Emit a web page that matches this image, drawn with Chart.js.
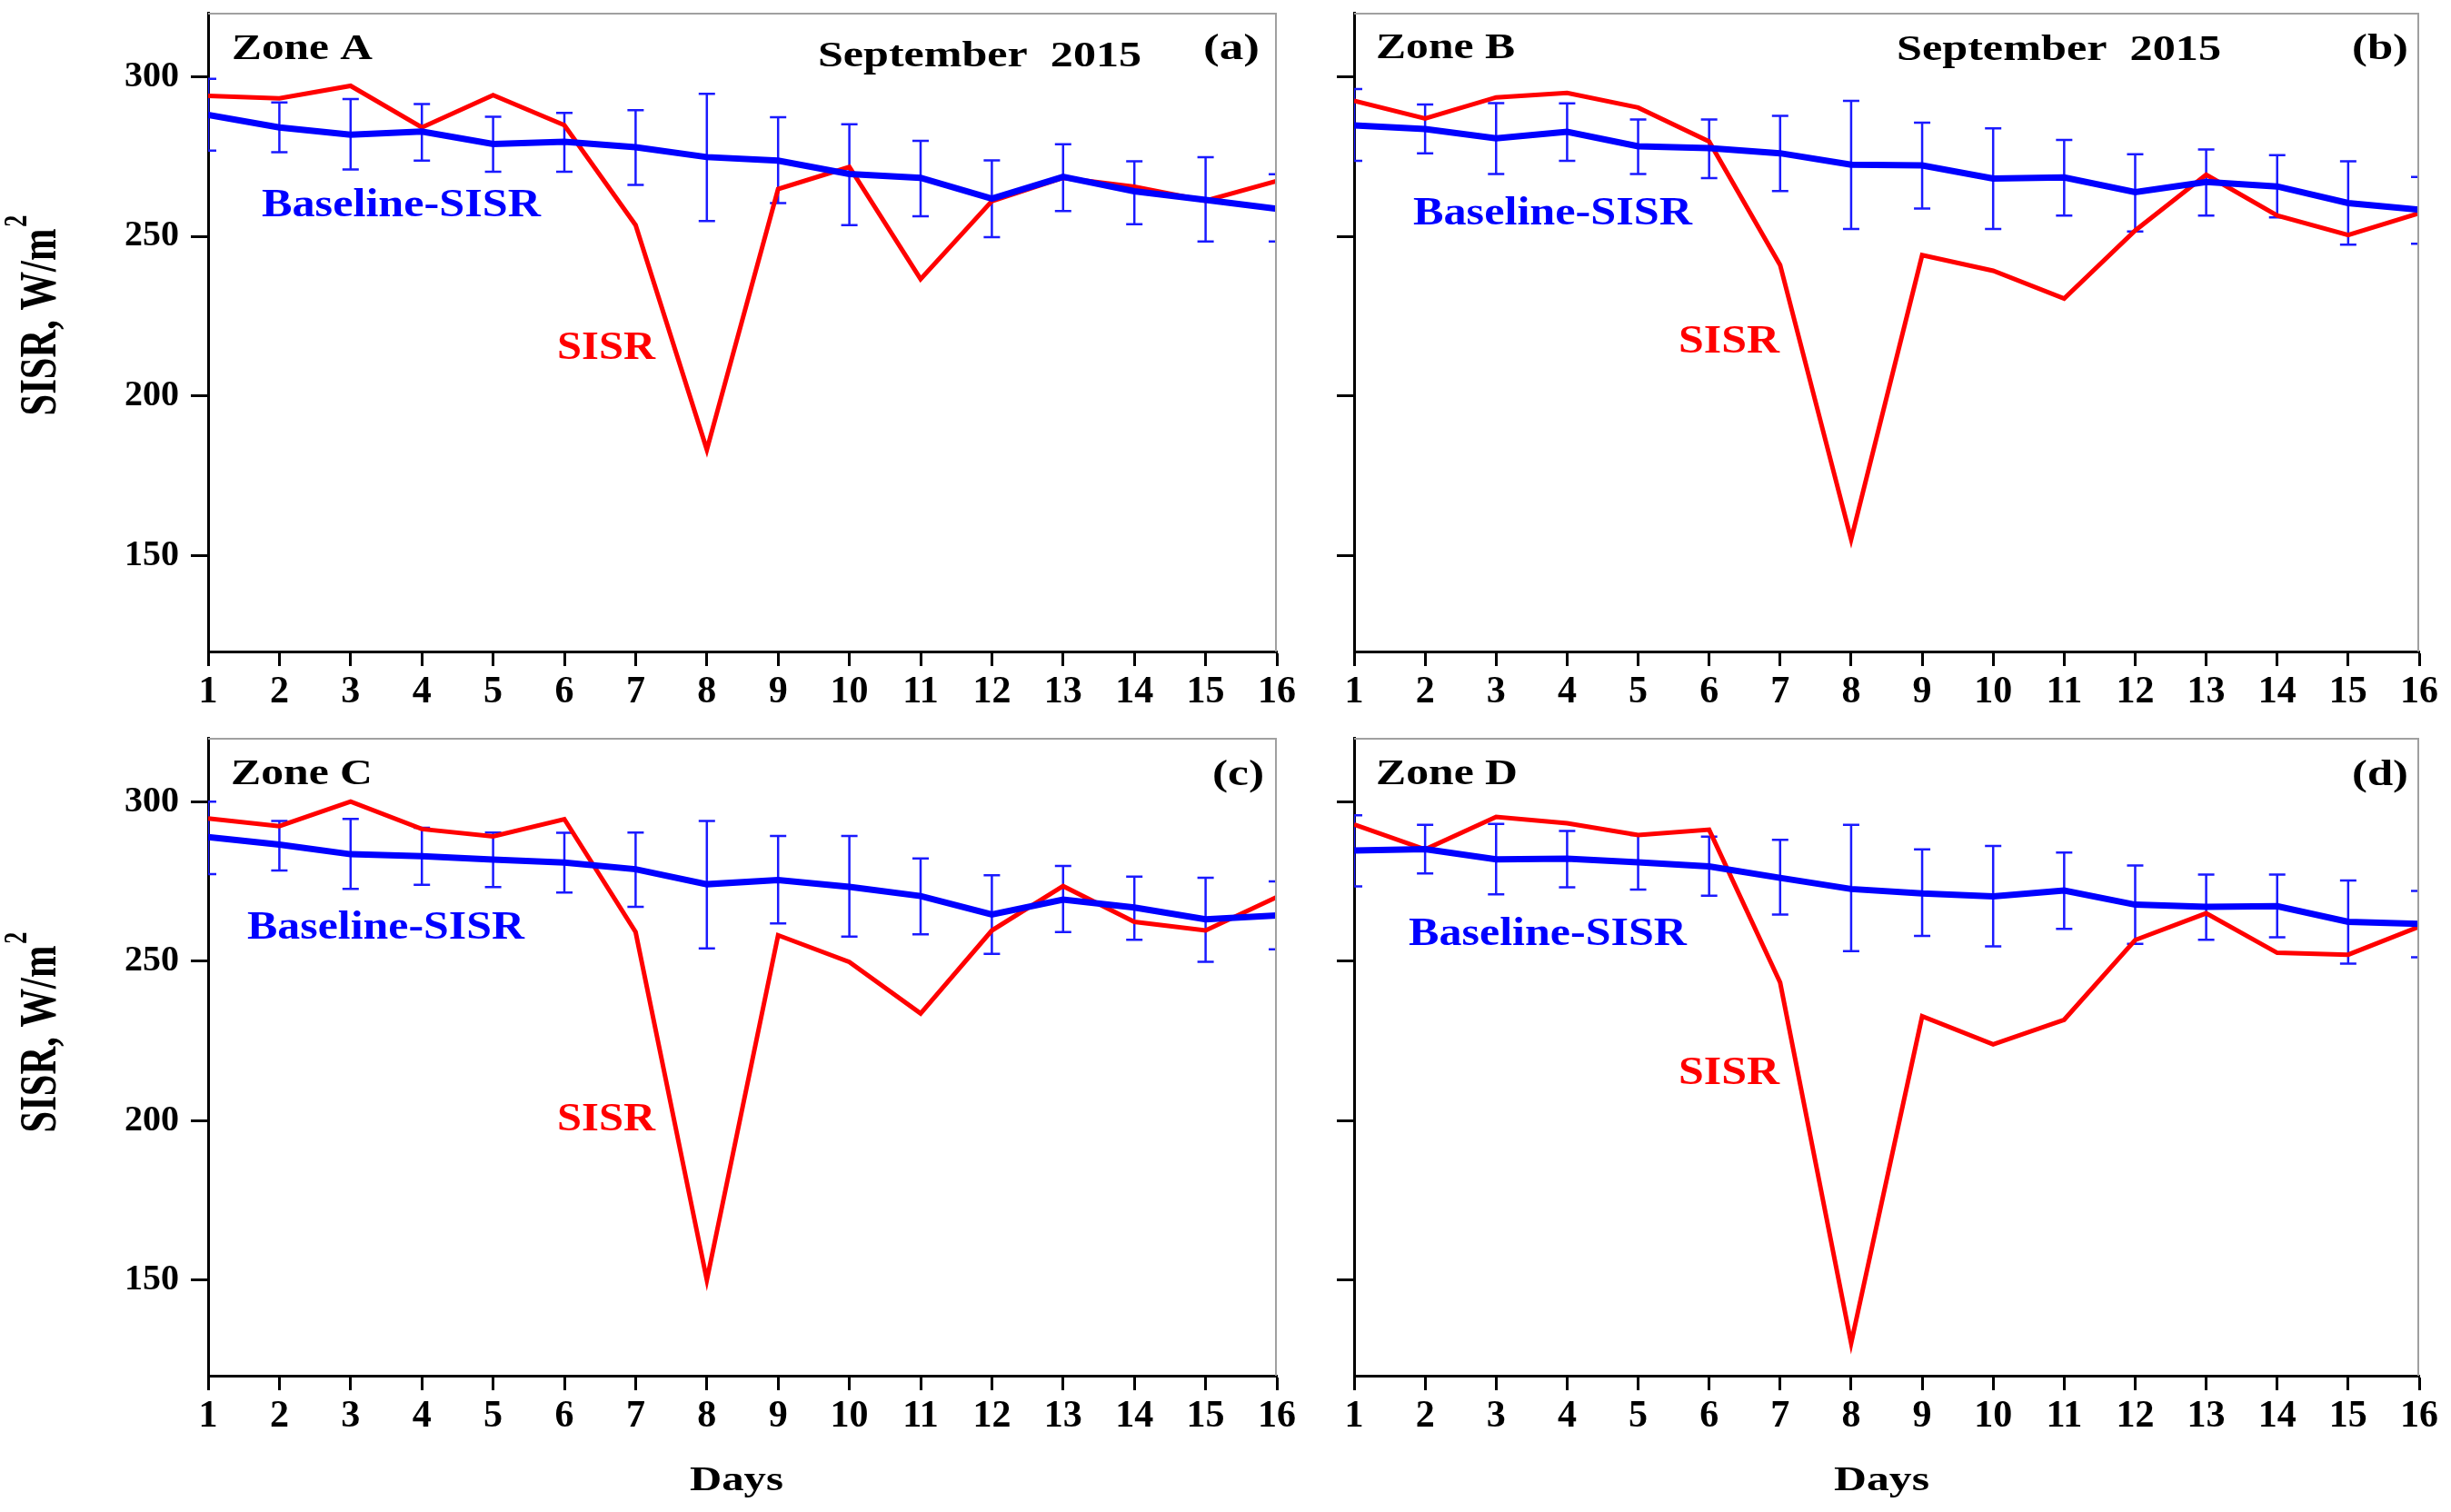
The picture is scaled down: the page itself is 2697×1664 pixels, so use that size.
<!DOCTYPE html>
<html><head><meta charset="utf-8">
<script src="https://cdn.jsdelivr.net/npm/chart.js@4.4.0/dist/chart.umd.min.js"></script>
<style>
html,body{margin:0;padding:0;background:#fff;width:2697px;height:1664px;overflow:hidden}
canvas{position:absolute}
</style></head><body>
<canvas id="cA" width="1445" height="790" style="left:0;top:0"></canvas>
<canvas id="cB" width="1252" height="790" style="left:1445px;top:0"></canvas>
<canvas id="cC" width="1445" height="874" style="left:0;top:790px"></canvas>
<canvas id="cD" width="1252" height="874" style="left:1445px;top:790px"></canvas>
<script>
// ---------- data ----------
const days = [1,2,3,4,5,6,7,8,9,10,11,12,13,14,15,16];
const yTickValues = [150,200,250,300];

const sisrA = [294.0,293.2,297.1,284.1,294.2,284.8,253.5,183.2,264.8,271.7,236.6,261.0,268.3,265.5,261.1,267.3];
const baseA = [288.0,284.1,281.8,282.8,278.9,279.6,277.9,274.8,273.7,269.5,268.3,261.8,268.6,264.1,261.4,258.6];
const hiA   = [299.3,291.9,293.0,291.4,287.4,288.6,289.5,294.6,287.3,285.1,279.9,273.8,278.8,273.5,274.8,269.4];
const loA   = [276.8,276.3,270.9,273.7,270.2,270.2,266.1,254.8,260.4,253.5,256.3,249.7,257.9,253.8,248.4,248.4];

const sisrB = [292.4,286.9,293.5,294.9,290.3,279.7,241.0,155.1,244.1,239.2,230.5,251.8,269.3,256.5,250.4,257.2];
const baseB = [284.7,283.6,280.7,282.7,278.2,277.6,276.0,272.4,272.2,268.1,268.4,263.8,267.0,265.6,260.4,258.3];
const hiB   = [296.1,291.3,291.7,291.6,286.6,286.6,287.7,292.4,285.6,283.8,280.2,275.7,277.2,275.4,273.5,268.6];
const loB   = [273.6,276.0,269.5,273.6,269.5,268.2,264.2,252.3,258.7,252.3,256.5,251.5,256.5,255.9,247.4,247.7];

const sisrC = [294.7,292.3,300.0,291.4,289.1,294.5,259.1,150.0,258.1,249.7,233.6,259.6,273.5,262.3,259.6,270.1];
const baseC = [288.9,286.5,283.5,282.9,281.8,280.9,278.8,274.1,275.4,273.3,270.4,264.6,269.3,266.8,263.1,264.3];
const hiC   = [300.0,293.9,294.6,291.8,290.3,290.2,290.3,293.9,289.2,289.2,282.2,276.9,279.8,276.5,276.1,275.0];
const loC   = [277.3,278.4,272.6,273.9,273.2,271.5,267.0,254.0,261.8,257.7,258.4,252.3,259.1,256.7,249.8,253.7];

const sisrD = [292.8,285.0,295.2,293.2,289.5,291.2,243.3,130.2,232.7,223.9,231.6,256.6,265.0,252.6,252.0,260.8];
const baseD = [284.7,285.1,281.9,282.1,281.0,279.7,276.1,272.6,271.2,270.3,272.1,267.7,267.0,267.2,262.3,261.7];
const hiD   = [295.7,292.7,293.0,290.8,289.5,289.0,288.0,292.7,285.0,286.1,284.0,280.0,277.1,277.1,275.3,272.0];
const loD   = [273.4,277.5,270.9,273.1,272.4,270.5,264.6,253.1,257.9,254.6,260.1,255.4,256.7,257.5,249.2,251.2];

// ---------- styles / layout ----------
const RED = '#ff0000', BLUE = '#0000ff', BLACK = '#000';
const FONT = '"Liberation Serif", "Times New Roman", serif';

const texts = {
  A: [
    {t:'Zone A', l:255, r:410, y:51, s:41, c:BLACK},
    {t:'September  2015', l:900, r:1256, y:59, s:41, c:BLACK},
    {t:'(a)', l:1324, r:1386, y:52, s:40, c:BLACK},
    {t:'Baseline-SISR', l:288, r:595, y:223, s:44, c:BLUE},
    {t:'SISR', l:613, r:721, y:380, s:44, c:RED}
  ],
  B: [
    {t:'Zone B', l:1514, r:1667, y:50, s:41, c:BLACK},
    {t:'September  2015', l:2087, r:2444, y:52, s:41, c:BLACK},
    {t:'(b)', l:2588, r:2650, y:52, s:40, c:BLACK},
    {t:'Baseline-SISR', l:1555, r:1862, y:232, s:44, c:BLUE},
    {t:'SISR', l:1847, r:1958, y:373, s:44, c:RED}
  ],
  C: [
    {t:'Zone C', l:254, r:410, y:849, s:41, c:BLACK},
    {t:'(c)', l:1334, r:1391, y:851, s:40, c:BLACK},
    {t:'Baseline-SISR', l:272, r:577, y:1018, s:44, c:BLUE},
    {t:'SISR', l:613, r:721, y:1229, s:44, c:RED},
    {t:'Days', l:759, r:862, y:1627, s:38, c:BLACK}
  ],
  D: [
    {t:'Zone D', l:1514, r:1670, y:849, s:41, c:BLACK},
    {t:'(d)', l:2588, r:2650, y:851, s:40, c:BLACK},
    {t:'Baseline-SISR', l:1550, r:1856, y:1025, s:44, c:BLUE},
    {t:'SISR', l:1847, r:1958, y:1178, s:44, c:RED},
    {t:'Days', l:2018, r:2123, y:1627, s:38, c:BLACK}
  ]
};

function drawFit(ctx, o, ox, oy) {
  ctx.save();
  ctx.font = 'bold ' + o.s + 'px ' + FONT;
  const w = ctx.measureText(o.t).width;
  const sx = (o.r - o.l) / w;
  ctx.translate(o.l - ox, o.y - oy + 0.33 * o.s);
  ctx.scale(sx, 1);
  ctx.fillStyle = o.c;
  ctx.textBaseline = 'alphabetic';
  ctx.textAlign = 'left';
  ctx.fillText(o.t, 0, 0);
  ctx.restore();
}

function drawYTitle(ctx, cx, cy, ox, oy) {
  const size = 44, supSize = 27, stretch = 1.3, targetLen = 219;
  ctx.save();
  ctx.font = 'bold ' + size + 'px ' + FONT;
  const main = 'SISR, W/m';
  const wMain = ctx.measureText(main).width;
  ctx.font = 'bold ' + supSize + 'px ' + FONT;
  const wSup = ctx.measureText('2').width;
  const total = wMain + wSup;
  const k = targetLen / total;
  ctx.translate(cx - ox, cy - oy);
  ctx.rotate(-Math.PI / 2);
  ctx.scale(k, stretch);
  ctx.fillStyle = BLACK;
  ctx.textBaseline = 'alphabetic';
  ctx.textAlign = 'left';
  const base = 0.33 * size;
  ctx.font = 'bold ' + size + 'px ' + FONT;
  ctx.fillText(main, -total / 2, base);
  ctx.font = 'bold ' + supSize + 'px ' + FONT;
  ctx.fillText('2', -total / 2 + wMain + 2, base - 0.55 * size);
  ctx.restore();
}

function makePanel(id, cfg) {
  const deco = {
    id: 'deco' + id,
    beforeDatasetsDraw(chart) {
      const ctx = chart.ctx, a = chart.chartArea;
      const xs = chart.scales.x, ys = chart.scales.y;
      ctx.save();
      ctx.beginPath();
      ctx.rect(a.left, a.top, a.right - a.left, a.bottom - a.top);
      ctx.clip();
      ctx.strokeStyle = '#1a1aff';
      ctx.lineWidth = 2.5;
      const cap = 9;
      days.forEach((d, i) => {
        const x = xs.getPixelForValue(d);
        const y1 = ys.getPixelForValue(cfg.hi[i]);
        const y2 = ys.getPixelForValue(cfg.lo[i]);
        ctx.beginPath();
        ctx.moveTo(x, y1); ctx.lineTo(x, y2);
        ctx.moveTo(x - cap, y1); ctx.lineTo(x + cap, y1);
        ctx.moveTo(x - cap, y2); ctx.lineTo(x + cap, y2);
        ctx.stroke();
      });
      ctx.restore();
    },
    afterDraw(chart) {
      const ctx = chart.ctx, a = chart.chartArea;
      ctx.save();
      ctx.strokeStyle = '#a0a0a0';
      ctx.lineWidth = 2;
      ctx.beginPath();
      ctx.moveTo(a.left, a.top + 1); ctx.lineTo(a.right - 1, a.top + 1); ctx.lineTo(a.right - 1, a.bottom);
      ctx.stroke();
      ctx.restore();
      cfg.texts.forEach(o => drawFit(ctx, o, cfg.ox, cfg.oy));
      if (cfg.yTitle) drawYTitle(ctx, cfg.yTitle[0], cfg.yTitle[1], cfg.ox, cfg.oy);
    }
  };
  return new Chart(document.getElementById(id), {
    type: 'line',
    data: {
      datasets: [
        {label: 'Baseline-SISR', data: days.map((d, i) => ({x: d, y: cfg.base[i]})),
         borderColor: BLUE, borderWidth: 7, pointRadius: 0, tension: 0, fill: false},
        {label: 'SISR', data: days.map((d, i) => ({x: d, y: cfg.sisr[i]})),
         borderColor: RED, borderWidth: 5, pointRadius: 0, tension: 0, fill: false}
      ]
    },
    options: {
      responsive: false, animation: false, devicePixelRatio: 1,
      layout: {padding: {top: cfg.padTop, right: cfg.padRight, left: 0, bottom: 0}},
      plugins: {legend: {display: false}, tooltip: {enabled: false}, title: {display: false}},
      scales: {
        x: {
          type: 'linear', min: 1, max: 16,
          ticks: {stepSize: 1, autoSkip: false, maxRotation: 0, color: BLACK, padding: 4,
                  font: {family: FONT, weight: 'bold', size: 42}},
          grid: {drawOnChartArea: false, drawTicks: true, tickLength: 16, tickColor: BLACK, tickWidth: 3},
          border: {display: true, color: BLACK, width: 3},
          afterFit: s => { s.height = cfg.xH; s.paddingLeft = 0; s.paddingRight = 0; }
        },
        y: {
          type: 'linear', min: 120, max: 320,
          afterBuildTicks: s => { s.ticks = yTickValues.map(v => ({value: v})); },
          ticks: {display: cfg.showY, color: BLACK, padding: 13,
                  font: {family: FONT, weight: 'bold', size: 40}},
          grid: {drawOnChartArea: false, drawTicks: true, tickLength: 19, tickColor: BLACK, tickWidth: 3},
          border: {display: true, color: BLACK, width: 3},
          afterFit: s => { s.width = cfg.yW; s.paddingTop = 0; s.paddingBottom = 0; }
        }
      }
    },
    plugins: [deco]
  });
}

makePanel('cA', {ox: 0, oy: 0, yW: 229, padTop: 14, padRight: 40, xH: 73, showY: true,
  sisr: sisrA, base: baseA, hi: hiA, lo: loA, texts: texts.A, yTitle: [42, 348]});
makePanel('cB', {ox: 1445, oy: 0, yW: 45, padTop: 14, padRight: 35, xH: 73, showY: false,
  sisr: sisrB, base: baseB, hi: hiB, lo: loB, texts: texts.B, yTitle: null});
makePanel('cC', {ox: 0, oy: 790, yW: 229, padTop: 22, padRight: 40, xH: 150, showY: true,
  sisr: sisrC, base: baseC, hi: hiC, lo: loC, texts: texts.C, yTitle: [42, 1137]});
makePanel('cD', {ox: 1445, oy: 790, yW: 45, padTop: 22, padRight: 35, xH: 150, showY: false,
  sisr: sisrD, base: baseD, hi: hiD, lo: loD, texts: texts.D, yTitle: null});
</script>
</body></html>
